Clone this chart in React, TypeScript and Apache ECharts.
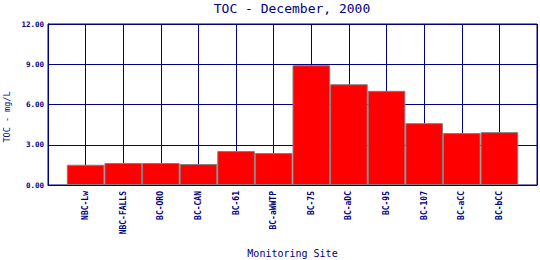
import React, { useEffect, useRef } from "react";
import * as echarts from "echarts";

const sites = ["NBC-Lw", "NBC-FALLS", "BC-ORO", "BC-CAN", "BC-61", "BC-aWWTP", "BC-75", "BC-aDC", "BC-95", "BC-107", "BC-aCC", "BC-bCC"];
const tocValues = [1.51, 1.64, 1.64, 1.56, 2.53, 2.38, 8.93, 7.51, 7.02, 4.61, 3.87, 3.94];
const yTicks = [0, 3, 6, 9, 12];

const NAVY = "#000080";
const FONT = "DejaVu Sans Mono";

export default function App() {
  const ref = useRef<HTMLDivElement>(null);
  useEffect(() => {
    if (!ref.current) return;
    const chart = echarts.init(ref.current, undefined, { renderer: "svg" });
    const cats = ["", ...sites, ""];
    const vals: (number | null)[] = [null, ...tocValues, null];
    chart.setOption({
      animation: false,
      backgroundColor: "#ffffff",
      title: {
        text: "TOC - December, 2000",
        left: 292,
        textAlign: "center",
        top: 1.5,
        padding: 0,
        textStyle: { color: NAVY, fontFamily: FONT, fontSize: 13, fontWeight: "normal" },
      },
      graphic: [
        {
          type: "text",
          x: 7,
          y: 117,
          rotation: Math.PI / 2,
          style: {
            text: "TOC - mg/L",
            fill: NAVY,
            font: `8.5px ${FONT}`,
            textAlign: "center",
            textVerticalAlign: "middle",
          },
        },
      ],
      grid: {
        left: 48, right: 3, top: 24, bottom: 75,
        outerBoundsMode: "none",
        containLabel: false,
        show: true, borderColor: NAVY, borderWidth: 1, backgroundColor: "transparent",
      },
      xAxis: {
        type: "category",
        data: cats,
        boundaryGap: false,
        name: "Monitoring Site",
        nameLocation: "middle",
        nameGap: 63,
        nameTextStyle: { color: NAVY, fontFamily: FONT, fontSize: 10 },
        axisLine: { show: true, lineStyle: { color: NAVY, width: 1 } },
        axisTick: { show: false },
        splitLine: { show: true, lineStyle: { color: NAVY, width: 1 } },
        axisLabel: { rotate: 90, interval: 0, color: NAVY, fontFamily: FONT, fontSize: 8, fontWeight: "bold", margin: 6 },
      },
      yAxis: {
        type: "value",
        min: yTicks[0],
        max: yTicks[yTicks.length - 1],
        interval: 3,
        axisLine: { show: true, lineStyle: { color: NAVY, width: 1 } },
        axisTick: { show: false },
        splitLine: { show: true, lineStyle: { color: NAVY, width: 1 } },
        axisLabel: {
          color: NAVY, fontFamily: FONT, fontSize: 7.5, fontWeight: "bold", margin: 4,
          formatter: (v: number) => v.toFixed(2),
        },
      },
      series: [
        {
          type: "bar",
          data: vals,
          barWidth: "100%",
          itemStyle: { color: "#ff0000", borderColor: "#808080", borderWidth: 1 },
        },
      ],
    });
    return () => chart.dispose();
  }, []);
  return <div ref={ref} style={{ width: 540, height: 260, position: "absolute", left: 0, top: 0 }} />;
}
